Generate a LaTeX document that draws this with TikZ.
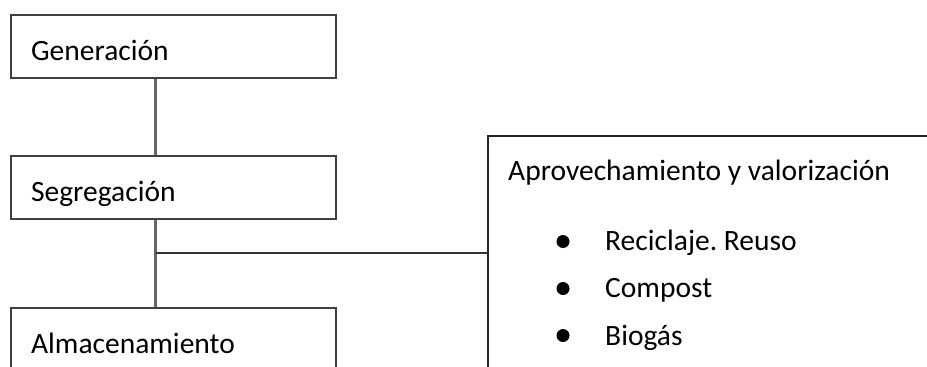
\documentclass[tikz,border=0pt]{standalone}
\usepackage{fontspec}
\setmainfont{Carlito}
\usetikzlibrary{positioning}

\tikzset{
  stage/.style={draw=black!75, line width=2.2pt, anchor=north west,
    minimum width=325pt, inner xsep=20pt, inner ysep=0pt,
    text width=285pt, align=left, text height=45.5pt, text depth=17.5pt,
    font=\fontsize{29.5}{34}\selectfont},
  panel/.style={draw=black!85, line width=2.2pt, anchor=north west,
    minimum width=460pt, minimum height=234pt, inner sep=0pt},
  entry/.style={anchor=base west, inner sep=0pt, font=\fontsize{29.5}{34}\selectfont},
  dot/.style={circle, fill=black, inner sep=0pt, minimum size=13pt},
  link/.style={draw=black!60, line width=2.2pt},
}

\begin{document}
\begin{tikzpicture}[x=1pt,y=-1pt]

    \useasboundingbox (0,0) rectangle (927,367);
    \clip (0,0) rectangle (927,367);

    % Stages of the waste chain on the left
    \node[stage] (gen) at (10,14) {Generación};
    \node[stage] (seg) at (10,155) {Segregación};
    \node[stage] (alm) at (10,307) {Almacenamiento};

    % Box for reuse and recovery, cut by the page edge
    \node[panel] (apro) at (487,135) {};
    \node[entry] (title) at (508,180) {Aprovechamiento y valorización};

    % Bullet list inside the box
    \node[dot] (d1) at (563,241.5) {};
    \node[entry] (reci) at (605,250) {Reciclaje.\ Reuso};
    \node[dot] (d2) at (563,288.5) {};
    \node[entry] (comp) at (605,297) {Compost};
    \node[dot] (d3) at (563,335.5) {};
    \node[entry] (biog) at (605,345) {Biogás};

    % Trunk line and branch to the box
    \coordinate (trunk) at (155.5,0);
    \draw[link] (gen.south -| trunk) -- (seg.north -| trunk);
    \draw[link] (seg.south -| trunk) -- (alm.north -| trunk);
    \draw[link, draw=black!80] (apro.west -| trunk) -- (apro.west);

\end{tikzpicture}
\end{document}
